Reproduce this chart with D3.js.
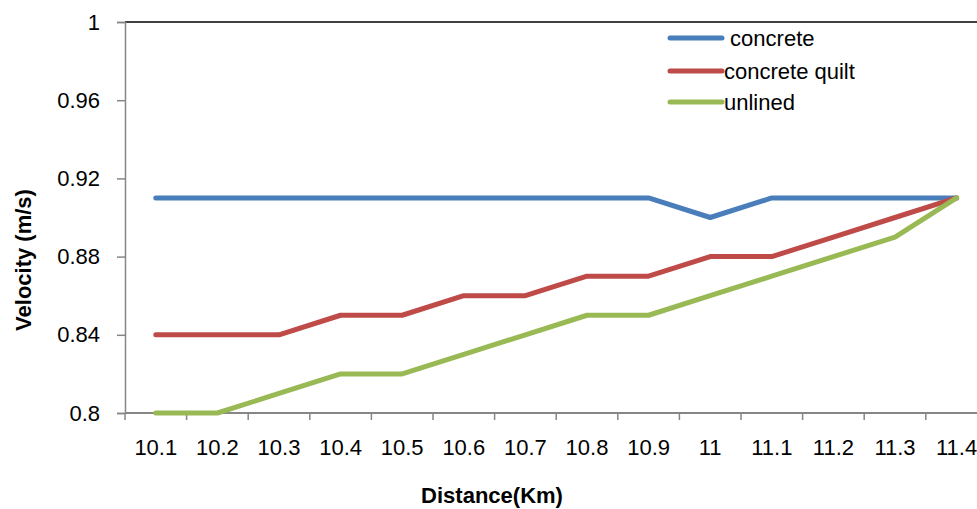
<!DOCTYPE html>
<html><head><meta charset="utf-8">
<script src="https://cdn.jsdelivr.net/npm/d3@7"></script>
<style>body{margin:0;background:#fff;overflow:hidden}svg{display:block}</style>
</head><body>
<svg id="c" width="977" height="509"></svg>
<script>
const categories = ["10.1","10.2","10.3","10.4","10.5","10.6","10.7","10.8","10.9","11","11.1","11.2","11.3","11.4"];
const concrete = [0.91,0.91,0.91,0.91,0.91,0.91,0.91,0.91,0.91,0.90,0.91,0.91,0.91,0.91];
const concreteQuilt = [0.84,0.84,0.84,0.85,0.85,0.86,0.86,0.87,0.87,0.88,0.88,0.89,0.90,0.91];
const unlined = [0.80,0.80,0.81,0.82,0.82,0.83,0.84,0.85,0.85,0.86,0.87,0.88,0.89,0.91];
const yTicks = [0.8,0.84,0.88,0.92,0.96,1];
const seriesNames = [" concrete","concrete quilt","unlined"];
const colors = ["#4a7ebb","#be4b48","#98b954"];
const seriesData = [concrete, concreteQuilt, unlined];

const svg = d3.select("#c");
const font = "'Liberation Sans', Arial, sans-serif";
const L = 125, T = 22, B = 413, W = 61.6 * 14;
const x = d3.scaleBand().domain(categories).range([L, L + W]);
const y = d3.scaleLinear().domain([0.8, 1]).range([B, T]);

// top border
svg.append("line").attr("x1", L).attr("x2", 977).attr("y1", T).attr("y2", T)
  .attr("stroke", "#000").attr("stroke-width", 1.5);

// y axis
const ya = svg.append("g").attr("transform", `translate(${L},0)`)
  .call(d3.axisLeft(y).tickValues(yTicks).tickSize(8).tickPadding(17).tickFormat(d => d3.format("~g")(d)));
ya.select(".domain").attr("stroke", "#868686").attr("stroke-width", 1.5);
ya.selectAll(".tick line").attr("stroke", "#868686").attr("stroke-width", 1.5);
ya.selectAll("text").attr("font-family", font).attr("font-size", 22).attr("fill", "#000");

// x axis: ticks between categories
const xa = svg.append("g").attr("transform", `translate(0,${B})`);
xa.append("line").attr("x1", L).attr("x2", L + W).attr("stroke", "#868686").attr("stroke-width", 2);
xa.selectAll("line.tk").data(categories).enter().append("line").attr("class", "tk")
  .attr("x1", d => x(d)).attr("x2", d => x(d)).attr("y1", 0).attr("y2", 7)
  .attr("stroke", "#868686").attr("stroke-width", 1.5);
xa.selectAll("text").data(categories).enter().append("text")
  .attr("x", d => x(d) + x.bandwidth() / 2).attr("y", 42)
  .attr("text-anchor", "middle").attr("font-family", font).attr("font-size", 22).text(d => d);

// lines
const line = d3.line().x((d, i) => x(categories[i]) + x.bandwidth() / 2).y(d => y(d));
seriesData.forEach((s, k) => {
  svg.append("path").datum(s).attr("d", line).attr("fill", "none")
    .attr("stroke", colors[k]).attr("stroke-width", 5).attr("stroke-linejoin", "round").attr("stroke-linecap", "round");
});

// legend
const lg = svg.append("g");
const ly = [38, 71, 102];
seriesNames.forEach((n, k) => {
  lg.append("line").attr("x1", 670).attr("x2", 722).attr("y1", ly[k]).attr("y2", ly[k])
    .attr("stroke", colors[k]).attr("stroke-width", 5).attr("stroke-linecap", "round");
  lg.append("text").attr("x", 724).attr("y", ly[k]).attr("dy", "0.35em")
    .attr("font-family", font).attr("font-size", 22).attr("xml:space", "preserve").style("white-space", "pre").text(n);
});

// axis titles
svg.append("text").attr("transform", "translate(31,260) rotate(-90)").attr("text-anchor", "middle")
  .attr("font-family", font).attr("font-weight", "bold").attr("font-size", 22).text("Velocity (m/s)");
svg.append("text").attr("x", 492).attr("y", 503).attr("text-anchor", "middle")
  .attr("font-family", font).attr("font-weight", "bold").attr("font-size", 22).text("Distance(Km)");
</script>
</body></html>
